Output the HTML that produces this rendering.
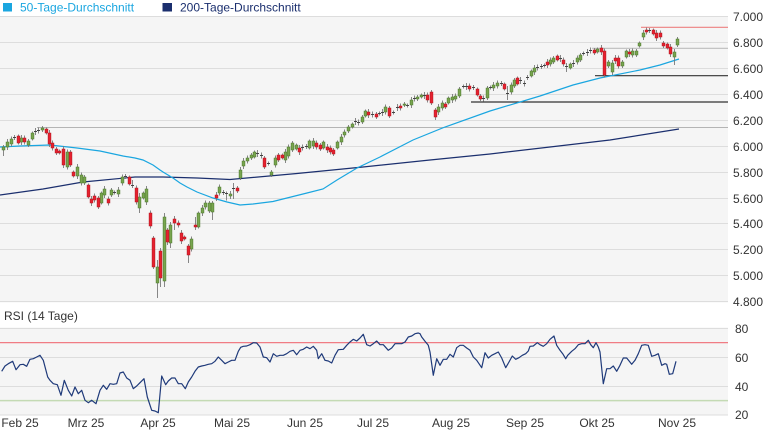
<!DOCTYPE html>
<html><head><meta charset="utf-8">
<style>
html,body{margin:0;padding:0;background:#fff;width:765px;height:430px;overflow:hidden}
svg{display:block}
text{font-family:"Liberation Sans",Arial,sans-serif;font-size:12px;fill:#333}
</style></head><body>
<svg id="c" width="765" height="430" viewBox="0 0 765 430" xmlns="http://www.w3.org/2000/svg">
<!-- legend -->
<rect x="3" y="3" width="9" height="8.5" fill="#1aa6e0"/>
<text x="20" y="11.5" style="fill:#1aa6e0">50-Tage-Durchschnitt</text>
<rect x="162.5" y="3" width="9.5" height="8.5" fill="#1b2f6e"/>
<text x="180" y="11.5" style="fill:#1b2f6e">200-Tage-Durchschnitt</text>

<!-- main panel -->
<rect x="0" y="16.5" width="728" height="286" fill="#f5f5f5"/>
<g stroke="#dddddd" stroke-width="1">
<line x1="0" x2="728" y1="16.5" y2="16.5"/>
<line x1="0" x2="728" y1="42.5" y2="42.5"/>
<line x1="0" x2="728" y1="68.5" y2="68.5"/>
<line x1="0" x2="728" y1="94.5" y2="94.5"/>
<line x1="0" x2="728" y1="120.5" y2="120.5"/>
<line x1="0" x2="728" y1="146.5" y2="146.5"/>
<line x1="0" x2="728" y1="172.5" y2="172.5"/>
<line x1="0" x2="728" y1="198.5" y2="198.5"/>
<line x1="0" x2="728" y1="223.5" y2="223.5"/>
<line x1="0" x2="728" y1="249.5" y2="249.5"/>
<line x1="0" x2="728" y1="275.5" y2="275.5"/>
<line x1="0" x2="728" y1="301.5" y2="301.5"/>
</g>
<g>
<text x="733" y="21">7.000</text>
<text x="733" y="47">6.800</text>
<text x="733" y="73">6.600</text>
<text x="733" y="99">6.400</text>
<text x="733" y="125">6.200</text>
<text x="733" y="151">6.000</text>
<text x="733" y="177">5.800</text>
<text x="733" y="203">5.600</text>
<text x="733" y="228">5.400</text>
<text x="733" y="254">5.200</text>
<text x="733" y="280">5.000</text>
<text x="733" y="306">4.800</text>
</g>
<!-- horizontal support/resistance lines -->
<line x1="37" x2="728" y1="127.5" y2="127.5" stroke="#b4b4b4" stroke-width="1"/>
<line x1="471" x2="728" y1="102" y2="102" stroke="#333" stroke-width="1.2"/>
<line x1="595" x2="728" y1="75.7" y2="75.7" stroke="#333" stroke-width="1.2"/>
<line x1="592" x2="728" y1="48.3" y2="48.3" stroke="#bdbdbd" stroke-width="1.2"/>
<line x1="641" x2="728" y1="27.3" y2="27.3" stroke="#ec8080" stroke-width="1.2"/>

<!-- moving averages -->
<polyline fill="none" stroke="#1b2f6e" stroke-width="1.2" points="0,195 43,189 83,182 135,177 163,177 197,178 230,179.5 297,173.5 363,167 430,160 490,154 550,147 610,140 679,129"/>
<polyline fill="none" stroke="#1aa6e0" stroke-width="1.2" points="0,147 20,146 50,145 77,148 100,151 123,156 135,158 143,160 153,165 160,170 163,172 173,178 180,183 187,187 197,192 213,198 227,202 240,205 253,204 273,201.5 307,193 323,189 337,180 357,168 380,157 413,140 445,127 490,111 540,96 573,85 600,78 640,70 660,65 679,59"/>

<g id="cand"></g>

<!-- RSI panel -->
<text x="4" y="320">RSI (14 Tage)</text>
<rect x="0" y="327.5" width="728" height="88" fill="#f5f5f5"/>
<g stroke="#dddddd" stroke-width="1">
<line x1="0" x2="728" y1="328.5" y2="328.5"/>
<line x1="0" x2="728" y1="357.5" y2="357.5"/>
<line x1="0" x2="728" y1="386.5" y2="386.5"/>
<line x1="0" x2="728" y1="415" y2="415"/>
</g>
<line x1="0" x2="728" y1="342.6" y2="342.6" stroke="#f07c84" stroke-width="1.2"/>
<line x1="0" x2="728" y1="400.6" y2="400.6" stroke="#c4dab4" stroke-width="1.5"/>
<text x="735" y="333">80</text>
<text x="735" y="362">60</text>
<text x="735" y="391">40</text>
<text x="735" y="419">20</text>
<polyline id="rsi" fill="none" stroke="#1f3a7a" stroke-width="1.2" stroke-linejoin="round" points=""/>

<!-- x axis labels -->
<g text-anchor="middle">
<text x="20" y="427">Feb 25</text>
<text x="86" y="427">Mrz 25</text>
<text x="158" y="427">Apr 25</text>
<text x="232" y="427">Mai 25</text>
<text x="305" y="427">Jun 25</text>
<text x="373" y="427">Jul 25</text>
<text x="451" y="427">Aug 25</text>
<text x="525" y="427">Sep 25</text>
<text x="597" y="427">Okt 25</text>
<text x="677" y="427">Nov 25</text>
</g>
</svg>
<script>
(function(){
var NS="http://www.w3.org/2000/svg";
var g=document.getElementById('cand');
function el(tag,a,p){var e=document.createElementNS(NS,tag);for(var k in a)e.setAttribute(k,a[k]);(p||g).appendChild(e);return e;}
var D=[
[3,147,150,'g',145,156],[7,142,147,'g'],[11,139,144,'g'],[14,137,138,'d'],[18,136,143,'r'],[21,138,142,'g'],[24,138,142,'r'],[28,141,145,'g'],[32,133,139,'g'],[35,131,132,'d'],[38,130,131,'d'],[42,128,130,'g'],[46,129,133,'r'],[49,133,144,'r'],[52,143,148,'r'],[56,149,153,'r'],[59,151,153,'r'],[63,149,165,'r'],[67,152,167,'g'],[70,152,165,'r'],[73,172,176,'r'],[77,167,176,'g'],[81,175,183,'g'],[84,177,183,'g'],[88,185,197,'r'],[91,199,203,'r'],[94,196,200,'r'],[98,198,207,'r'],[101,193,203,'g'],[104,189,195,'g'],[108,199,203,'r'],[111,190,195,'g'],[114,192,193,'d'],[118,190,194,'g'],[122,177,183,'g'],[125,176,177,'d'],[129,177,184,'r'],[132,185,187,'d',180,188],
[136,188,202,'r'],[139,197,208,'g',193,213],[143,193,198,'g'],[146,189,202,'g'],[150,213,226,'r'],[153,238,267,'r'],[157,267,283,'g',260,298],[160,251,278,'r',248,287],[164,217,281,'g',213,287],[167,230,242,'r',228,245],[170,225,243,'g',222,248],[174,219,223,'r',216,230],[178,223,225,'r'],[181,233,241,'r',230,244],[184,237,239,'r'],[188,246,255,'r',244,263],[191,239,249,'g'],[195,225,227,'r',217,230],[198,213,227,'g'],[202,208,213,'g'],[205,203,207,'g'],[209,203,211,'g'],[212,203,212,'g',201,220],[216,195,198,'r'],[219,187,193,'g'],[223,192,193,'d'],[226,193,199,'d'],[230,194,196,'g'],[233,188,189,'d',183,199],[237,188,191,'r'],
[240,170,178,'g',167,180],[243,161,166,'g'],[247,158,161,'g'],[251,155,158,'g'],[254,152,157,'g'],[257,153,154,'d'],[261,155,156,'d'],[264,158,167,'r'],[268,163,164,'d'],[271,172,175,'g',170,177],[275,158,165,'g'],[278,155,160,'r'],[282,155,158,'r'],[285,152,160,'g'],[288,147,156,'g'],[292,143,150,'g'],[296,145,149,'g'],[299,148,152,'r'],[302,147,148,'d'],[306,146,147,'d'],[309,141,148,'g'],[313,141,146,'g'],[316,143,147,'r'],[320,145,149,'r'],[323,142,148,'g'],[327,147,150,'r'],[330,148,152,'r'],[333,150,154,'r'],[337,142,148,'g'],[341,137,142,'g'],[344,132,135,'g'],[348,127,131,'g'],[352,124,127,'g'],[355,121,122,'d'],[358,122,123,'d'],[362,117,122,'g'],[365,111,116,'g'],[368,112,115,'r'],[372,114,115,'d'],[376,114,117,'r'],[379,113,114,'d'],[382,112,113,'d'],[385,107,112,'g'],[389,108,116,'r'],[393,112,113,'d'],[397,107,108,'d'],[400,106,108,'r'],[404,104,105,'g'],[407,105,106,'d'],[411,100,105,'g'],[414,98,99,'d'],[417,97,99,'g'],[421,95,97,'g'],[424,95,96,'d'],[427,95,100,'r'],[431,92,103,'r'],
[435,110,117,'r',108,120],[438,107,112,'g'],[442,103,108,'g'],[445,104,107,'r'],[448,98,103,'g'],[452,97,100,'g'],[455,96,99,'g'],[459,89,96,'g'],[463,86,87,'d'],[466,86,87,'d'],[469,86,89,'r'],[473,87,88,'d'],[477,89,95,'r'],[480,96,99,'r',94,102],[483,98,99,'d'],[487,88,98,'g'],[490,87,88,'d'],[493,85,88,'g'],[497,83,86,'g'],[501,83,84,'d'],[504,84,89,'r'],[507,93,94,'d',86,100],[511,85,92,'g'],[514,80,86,'g'],[517,78,84,'r'],[520,80,81,'d'],[524,83,84,'d'],[527,77,78,'d'],[531,71,76,'g'],[534,68,72,'g'],[537,67,68,'d'],[541,66,67,'d'],[544,65,66,'d'],[547,62,65,'r'],[550,60,64,'g'],[553,58,62,'g'],[557,56,60,'r'],[560,58,59,'d'],[563,60,64,'r'],[566,66,67,'d',63,72],[570,64,68,'g'],[573,63,64,'d'],[577,58,62,'g'],[580,55,60,'g'],[583,53,54,'d'],[587,52,53,'d'],[590,50,51,'d'],[594,50,53,'r'],[597,49,52,'g'],[601,48,52,'r'],[604,51,75,'r'],[608,62,66,'g'],[612,63,72,'g',60,75],[615,58,61,'r'],[618,58,66,'r'],[622,62,66,'g'],[626,51,57,'g'],[629,52,54,'r'],[632,51,55,'g'],[636,51,55,'g'],[639,43,46,'g'],[643,33,37,'g'],[646,30,32,'r'],[649,30,31,'d'],[653,30,34,'r'],[656,33,38,'r'],[660,33,37,'r'],[663,43,46,'r'],[667,44,48,'r'],[670,47,54,'r'],[674,52,57,'g',49,65],[677,39,45,'g']
];
var wick="",gb="",rb="",dj="";
D.forEach(function(d,i){
  var x=d[0],t=d[1],b=d[2],ty=d[3];
  var ext=1.5+((i*7)%4)*0.5;
  var wt=d.length>4?d[4]:t-ext, wb=d.length>5?d[5]:b+ext;
  wick+="M"+(x+0.5)+" "+wt+"V"+wb;
  if(ty==='d'){dj+="M"+(x-1)+" "+(t+0.5)+"h3";}
  else{
    var h=Math.max(b-t,1.2);
    var s="M"+(x-0.9)+" "+t+"h2.8v"+h+"h-2.8z";
    if(ty==='g')gb+=s;else rb+=s;
  }
});
el('path',{d:wick,stroke:'#7a7a7a','stroke-width':'0.9',fill:'none'});
el('path',{d:gb,fill:'#79a54f',stroke:'#4c7a2c','stroke-width':'0.6'});
el('path',{d:rb,fill:'#e8202e',stroke:'#b3141e','stroke-width':'0.6'});
el('path',{d:dj,stroke:'#444','stroke-width':'1',fill:'none'});

var A=[[5,148],[15,132],[25,125],[38,118],[48,143],[60,128],[70,127],[80,133],[90,112],[100,110],[110,105],[120,100],[130,115],[143,165],[150,175],[160,185],[172,188],[183,220],[193,175],[205,205],[215,222],[225,195],[235,215],[245,205],[255,235],[265,242],[275,235],[288,245],[300,205],[310,190],[320,202],[330,185],[340,187],[350,185],[360,153],[370,150],[380,168],[390,175],[400,200],[410,192],[420,182],[432,170],[442,225],[455,265],[465,267],[475,272],[485,162],[497,188],[505,177],[515,168],[525,168],[535,185],[545,185],[556,200],[565,180],[575,165],[585,148],[595,135],[605,132],[615,130],[625,127],[635,125],[645,118],[655,105],[665,115],[675,125],[685,120],[695,115],[705,115],[715,88],[722,76],[730,73],[740,72],[750,68],[760,62],[770,63],[780,75],[790,105],[800,107],[810,120],[820,95],[830,103],[840,100],[850,100],[860,95],[870,88],[880,85],[890,98],[900,85],[910,82],[920,75],[930,80],[940,73],[950,85],[955,110],[965,95],[975,115],[985,117],[995,123],[1005,100],[1015,83]];
var B=[[10,82],[20,70],[30,60],[40,52],[50,57],[60,48],[70,37],[80,68],[90,72],[100,65],[110,57],[120,68],[130,68],[145,85],[155,78],[165,65],[175,65],[185,65],[195,60],[205,45],[215,42],[225,35],[235,33],[240,35],[245,45],[255,58],[265,70],[270,90],[280,160],[290,110],[300,130],[310,112],[320,112],[330,97],[340,105],[350,77],[360,70],[370,70],[380,78],[390,85],[400,105],[410,115],[425,137],[435,92],[445,108],[455,100],[465,95],[475,90],[485,108],[497,137],[507,120],[517,102],[527,112],[537,107],[547,100],[557,95],[565,87],[570,73],[580,72],[592,62],[600,68],[610,73],[620,65],[630,52],[642,42],[650,70],[660,85],[668,95],[677,110],[683,100],[695,88],[705,80],[715,68],[725,65],[735,65],[745,55],[752,68],[760,77],[768,62],[775,75],[780,90],[790,185],[800,140],[810,140],[820,132],[830,148],[840,130],[850,108],[860,108],[875,127],[885,115],[895,95],[905,70],[915,68],[925,70],[935,103],[945,100],[955,95],[965,130],[975,125],[980,127],[988,157],[998,155],[1008,118]];
var pts=[];
A.forEach(function(p){pts.push((p[0]/3).toFixed(1)+","+(322+p[1]/3).toFixed(1));});
B.forEach(function(p){pts.push((340+p[0]/3).toFixed(1)+","+(322+p[1]/3).toFixed(1));});
document.getElementById('rsi').setAttribute('points',pts.join(' '));
})();
</script>
</body></html>
